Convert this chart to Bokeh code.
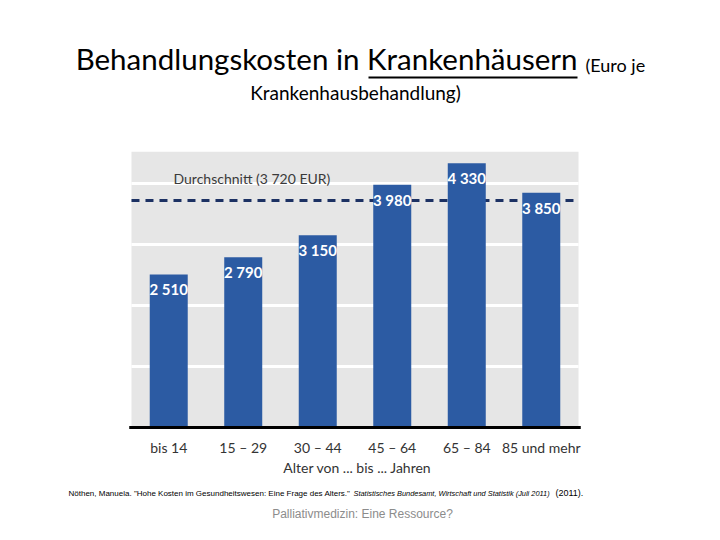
from bokeh.plotting import figure
from bokeh.models import ColumnDataSource, LabelSet, Label, BoxAnnotation
from bokeh.core.properties import value
from bokeh.embed import file_html
from bokeh.resources import INLINE

# data
ages = ["bis 14", "15 – 29", "30 – 44", "45 – 64", "65 – 84", "85 und mehr"]
costs = [2510, 2790, 3150, 3980, 4330, 3850]
cost_labels = ["2 510", "2 790", "3 150", "3 980", "4 330", "3 850"]
average = 3720
avg_text = "Durchschnitt (3 720  EUR)"
grid_ticks = [1000, 2000, 3000, 4000]
y_top = 4520

CHART_FONT = "Lato"
TITLE_FONT = "Lato"
W, H = 709, 530

# the frame fills the whole page; the chart sits inside it via the ranges
p = figure(x_range=ages, y_range=(-1688.5, 7000), width=W, height=H,
           output_backend="svg", toolbar_location=None, min_border=0,
           background_fill_color="white", border_fill_color="white",
           outline_line_color=None)
p.x_range.range_padding = 0.586
p.axis.visible = False
p.grid.visible = False

n = len(ages)
src = ColumnDataSource(dict(age=ages, cost=costs, lbl=cost_labels))

# grey plot area
p.add_layout(BoxAnnotation(left=0, right=n, bottom=0, top=y_top,
                           fill_color="#e6e6e6", fill_alpha=1,
                           line_color=None, level="image"))
# white grid lines
p.segment(x0=[0] * len(grid_ticks), x1=[n] * len(grid_ticks),
          y0=grid_ticks, y1=grid_ticks, line_color="white", line_width=3)
# dashed average line, behind the bars
p.segment(x0=[0], x1=[n], y0=[average], y1=[average],
          line_color="#1c3163", line_width=3, line_dash="8 6")
p.vbar(x="age", top="cost", width=0.51, source=src,
       fill_color="#2c5ba3", line_color=None)
# base line
p.segment(x0=[-0.03], x1=[n + 0.03], y0=[0], y1=[0],
          line_color="black", line_width=3)

p.add_layout(LabelSet(x="age", y="cost", text="lbl", source=src,
                      text_align="center", text_baseline="top", y_offset=-6,
                      text_color="white", text_font_size="15px",
                      text_font_style="bold", text_font=value(CHART_FONT)))

p.add_layout(Label(x=173, y=H - 186, x_units="screen", y_units="screen",
                   text=avg_text, text_font=CHART_FONT, text_font_size="14px",
                   text_color="#3a3a3a"))

# category labels
p.text(x=ages, y=[0] * n, text=ages, text_align="center", text_baseline="top",
       y_offset=11, text_font=value(CHART_FONT), text_font_size="14px",
       text_color="#333333")
p.add_layout(Label(x=357, y=H - 458, x_units="screen", y_units="screen",
                   text="Alter von ... bis ... Jahren", text_align="center",
                   text_baseline="top", text_font=CHART_FONT,
                   text_font_size="14px", text_color="#333333"))

# title (slide heading)
p.add_layout(Label(x=577, y=H - 75, x_units="screen", y_units="screen",
                   text="Behandlungskosten in Krankenhäusern", text_align="right",
                   text_font=TITLE_FONT, text_font_size="29.5px", text_color="black"))
p.add_layout(Label(x=585, y=H - 75, x_units="screen", y_units="screen",
                   text="(Euro je", text_font=TITLE_FONT, text_font_size="18px",
                   text_color="black"))
p.add_layout(Label(x=355, y=H - 103, x_units="screen", y_units="screen",
                   text="Krankenhausbehandlung)", text_align="center",
                   text_font=TITLE_FONT, text_font_size="19px", text_color="black"))
p.add_layout(BoxAnnotation(left=368, right=577, bottom=H - 78, top=H - 76,
                           left_units="screen", right_units="screen",
                           bottom_units="screen", top_units="screen",
                           fill_color="black", fill_alpha=1, line_color=None))

# source line and footer
p.add_layout(Label(x=68, y=H - 497, x_units="screen", y_units="screen",
                   text='Nöthen, Manuela. "Hohe Kosten im Gesundheitswesen: Eine Frage des Alters."',
                   text_font="Liberation Sans", text_font_size="8px", text_color="black"))
p.add_layout(Label(x=353, y=H - 497, x_units="screen", y_units="screen",
                   text="Statistisches Bundesamt, Wirtschaft und Statistik (Juli 2011)",
                   text_font="Liberation Sans", text_font_size="7.4px",
                   text_font_style="italic", text_color="black"))
p.add_layout(Label(x=555, y=H - 497, x_units="screen", y_units="screen",
                   text="(2011).", text_font="Liberation Sans", text_font_size="9px",
                   text_color="black"))
p.add_layout(Label(x=362, y=H - 520, x_units="screen", y_units="screen",
                   text="Palliativmedizin: Eine Ressource?", text_align="center",
                   text_font="Liberation Sans", text_font_size="12px",
                   text_color="#8c8c8c"))

open("out.html", "w").write(file_html(p, INLINE))
